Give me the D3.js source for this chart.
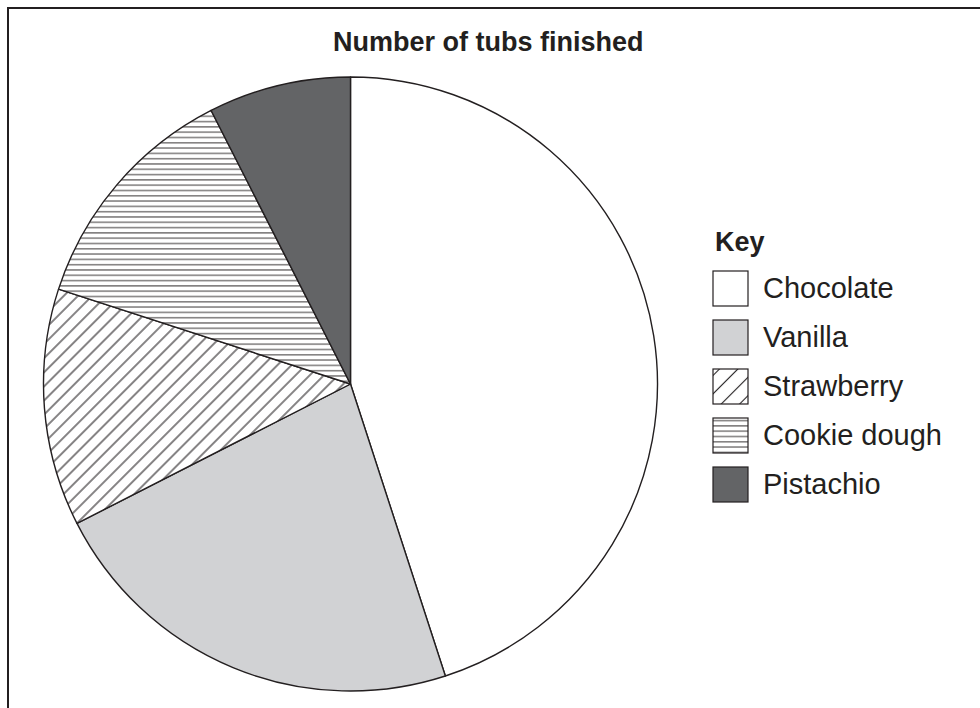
<!DOCTYPE html>
<html>
<head>
<meta charset="utf-8">
<script src="https://cdn.jsdelivr.net/npm/d3@7"></script>
<style>
  html, body { margin: 0; padding: 0; background: #fff; }
  svg { display: block; }
  text { font-family: "Liberation Sans", Arial, sans-serif; fill: #231f20; }
</style>
</head>
<body>
<svg id="chart" width="980" height="708"></svg>
<script>
const title = "Number of tubs finished";
const legendTitle = "Key";
const categories = ["Chocolate", "Vanilla", "Strawberry", "Cookie dough", "Pistachio"];
const values = [18, 9, 5, 5, 3];
const fills = ["#ffffff", "#d1d2d4", "url(#hatchDiag)", "url(#hatchHoriz)", "#636466"];
const legendFills = ["#ffffff", "#d1d2d4", "url(#hatchDiagKey)", "url(#hatchHoriz)", "#636466"];

const svg = d3.select("#chart");
const W = 980, H = 708;

// patterns
const defs = svg.append("defs");
function diagPattern(id, gap, ox, oy) {
  const p = defs.append("pattern").attr("id", id)
    .attr("patternUnits", "userSpaceOnUse").attr("width", 20).attr("height", gap)
    .attr("patternTransform", `translate(${ox},${oy}) rotate(-45)`);
  p.append("rect").attr("x", -1).attr("y", -1).attr("width", 22).attr("height", gap + 2).attr("fill", "#fff");
  p.append("line").attr("x1", -2).attr("x2", 22).attr("y1", gap / 2).attr("y2", gap / 2)
    .attr("stroke", "#231f20").attr("stroke-width", 1.1);
}
diagPattern("hatchDiag", 10, 0, 0);
diagPattern("hatchDiagKey", 13, 713, 369);

const ph = defs.append("pattern").attr("id", "hatchHoriz")
  .attr("patternUnits", "userSpaceOnUse").attr("width", 20).attr("height", 5.3);
ph.append("rect").attr("x", -1).attr("y", -1).attr("width", 22).attr("height", 8).attr("fill", "#fff");
ph.append("line").attr("x1", -2).attr("x2", 22).attr("y1", 2.6).attr("y2", 2.6)
  .attr("stroke", "#231f20").attr("stroke-width", 0.9);

// frame (top and left only)
svg.append("path").attr("d", `M8,${H} L8,8 L${W},8`)
  .attr("fill", "none").attr("stroke", "#231f20").attr("stroke-width", 2);

// title
svg.append("text").attr("x", 333).attr("y", 51)
  .attr("font-size", 27).attr("font-weight", "bold").text(title);

// pie
const cx = 350.5, cy = 384, r = 307;
const pie = d3.pie().sort(null).value(d => d.v).startAngle(0).endAngle(2 * Math.PI);
const arc = d3.arc().innerRadius(0).outerRadius(r);
const data = categories.map((c, i) => ({ c, v: values[i], f: fills[i], lf: legendFills[i] }));
const g = svg.append("g").attr("transform", `translate(${cx},${cy})`);
g.selectAll("path").data(pie(data)).join("path")
  .attr("d", arc)
  .attr("fill", d => d.data.f)
  .attr("stroke", "#231f20")
  .attr("stroke-width", 1.4)
  .attr("stroke-linejoin", "round");

// legend
const lx = 713, ly = 271, step = 49, box = 35;
svg.append("text").attr("x", 715).attr("y", 251)
  .attr("font-size", 27).attr("font-weight", "bold").text(legendTitle);
const items = svg.selectAll("g.leg").data(data).join("g").attr("class", "leg")
  .attr("transform", (d, i) => `translate(${lx},${ly + i * step})`);
items.append("rect").attr("width", box).attr("height", box)
  .attr("fill", d => d.lf).attr("stroke", "#231f20").attr("stroke-width", 1.2);
items.append("text").attr("x", 50).attr("y", 27)
  .attr("font-size", 29).text(d => d.c);
</script>
</body>
</html>
